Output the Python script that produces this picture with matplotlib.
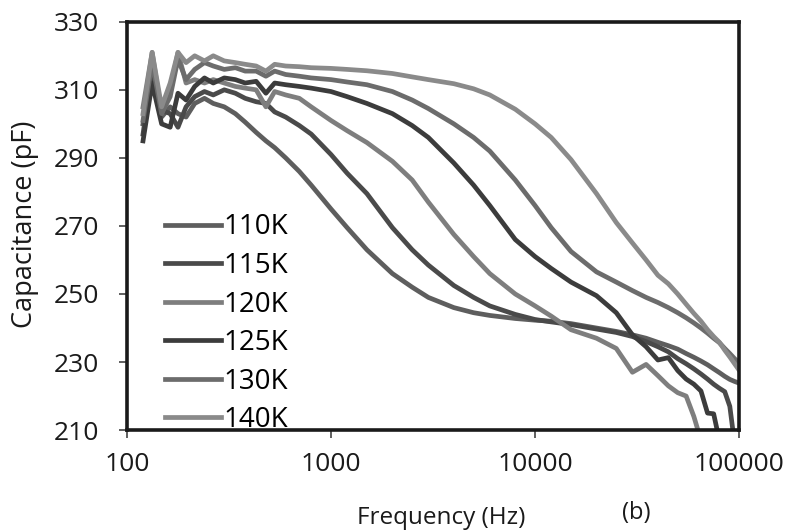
import numpy as np
import matplotlib
matplotlib.use("Agg")
import matplotlib.pyplot as plt

plt.rcParams['font.family'] = ['Open Sans', 'DejaVu Sans']

# Frequency sweep (Hz) shared by all temperatures
freq = [120, 133, 148, 163, 178, 195, 215, 240, 265, 300,
        340, 380, 430, 480, 530, 600, 700, 800, 1000, 1200,
        1500, 2000, 2500, 3000, 4000, 5000, 6000, 8000, 10000, 12000,
        15000, 20000, 25000, 30000, 35000, 40000, 45000, 50000, 55000, 60000,
        65000, 70000, 75000, 80000, 85000, 90000, 95000, 100000]

nan = np.nan

# Capacitance (pF) at each temperature
cap_110 = [300, 314, 302, 305, 303, 302, 306, 307.5, 306, 305,
           303, 300.5, 297.5, 295, 293, 290, 286, 282, 275, 269.5,
           263, 256, 252, 249, 246, 244.5, 243.7, 242.8, 242.3, 242,
           241.3, 240, 239, 238, 237, 235.8, 234.8, 233.8, 232.5, 231.4,
           230.3, 229.2, 228, 226.9, 225.8, 224.9, 224.3, 223.8]
cap_115 = [297, 316, 304, 303, 299, 305, 308, 309.5, 308.5, 310,
           309, 307.5, 306.5, 306, 303.5, 302, 299.5, 297, 291, 285.5,
           279.5, 269.5, 263, 258.5, 252.5, 249, 246.5, 244, 242.5, 241.8,
           241, 239.7, 238.7, 237.5, 236, 234.5, 233, 231, 229.5, 228,
           226.5, 225, 223.5, 222.3, 221.3, 217, 206, nan]
cap_120 = [305, 321, 303, 310, 321, 312, 313, 312, 313, 312,
           311, 310.5, 310, 305, 309.5, 308.5, 307.5, 305, 301, 298,
           294.5, 289, 283.5, 277, 267.5, 261, 256, 250, 246.5, 243.5,
           239.5, 237, 234, 227, 229.3, 226, 223, 221, 220, 214,
           207, nan, nan, nan, nan, nan, nan, nan]
cap_125 = [295, 312, 300, 299, 309, 307, 311, 313.5, 312, 313.5,
           313, 312, 312.5, 309, 312, 311.5, 311, 310.5, 309.5, 308,
           306, 303, 299.5, 296, 288.5, 282, 276, 266, 261, 257.5,
           253.5, 249.5, 244.5, 238, 234.5, 230.6, 231.3, 227.5, 225, 223.5,
           221.5, 215, 214.8, 207, nan, nan, nan, nan]
cap_130 = [301, 318, 303, 308, 319, 313, 316, 318, 317, 316,
           316.5, 315.5, 315.5, 314, 315.5, 314.5, 314, 313.5, 313, 312.3,
           311.5, 309.5, 307, 304.5, 300, 296, 292, 283.5, 276, 269.5,
           262.5, 256.5, 253.5, 251, 249, 247.5, 246, 244.5, 243, 241.5,
           240, 238.5, 237, 235.7, 234, 232.5, 231, 229.7]
cap_140 = [303, 321, 305, 312, 321, 318, 320, 318.5, 320, 318.5,
           318, 317.5, 317, 315.5, 317.5, 317, 316.8, 316.5, 316.3, 316,
           315.6, 314.8, 313.8, 313, 311.8, 310.3, 308.5, 304.3, 300, 296,
           289.5, 279.5, 271, 265, 260, 255.5, 253, 250, 247, 244.3,
           242, 239.5, 237.5, 235.8, 233.5, 231.5, 229.5, 227.6]

labels = ['110K', '115K', '120K', '125K', '130K', '140K']
series = [cap_110, cap_115, cap_120, cap_125, cap_130, cap_140]
colors = ['#5e5e5e', '#4a4a4a', '#7e7e7e', '#3c3c3c', '#6c6c6c', '#8a8a8a']

fig = plt.figure(figsize=(7.88, 5.31), dpi=100)
ax = fig.add_axes([0.161, 0.190, 0.777, 0.769])

for vals, lab, col in zip(series, labels, colors):
    ax.plot(freq, vals, color=col, linewidth=3.4, label=lab)

ax.set_xscale('log')
ax.set_xlim(100, 100000)
ax.set_ylim(210, 330)
ax.set_xticks([100, 1000, 10000, 100000])
ax.set_xticklabels(['100', '1000', '10000', '100000'])
ax.set_yticks(np.arange(210, 331, 20))
ax.minorticks_off()

for sp in ax.spines.values():
    sp.set_linewidth(2.6)
    sp.set_color('#1a1a1a')

ax.tick_params(axis='both', direction='out', length=6, width=1.2,
               color='#444444', labelsize=19, labelcolor='#1a1a1a')
ax.tick_params(axis='y', pad=14)
ax.tick_params(axis='x', pad=10)

ax.set_xlabel('Frequency (Hz)', fontsize=17.5, color='#1a1a1a', va='center')
ax.xaxis.set_label_coords(0.513, -0.216)
ax.set_ylabel('Capacitance (pF)', fontsize=19.5, color='#1a1a1a', va='center')
ax.yaxis.set_label_coords(-0.167, 0.505)
fig.text(0.807, 0.034, '(b)', fontsize=17, color='#1a1a1a',
         ha='center', va='center')

ax.legend(loc='lower left', bbox_to_anchor=(0.063, -0.01), frameon=False,
          fontsize=20, handlelength=2.0, handletextpad=0.1,
          labelspacing=0.38, borderpad=0.0, borderaxespad=0.0)

fig.savefig('out.png', dpi=100, facecolor='white')
